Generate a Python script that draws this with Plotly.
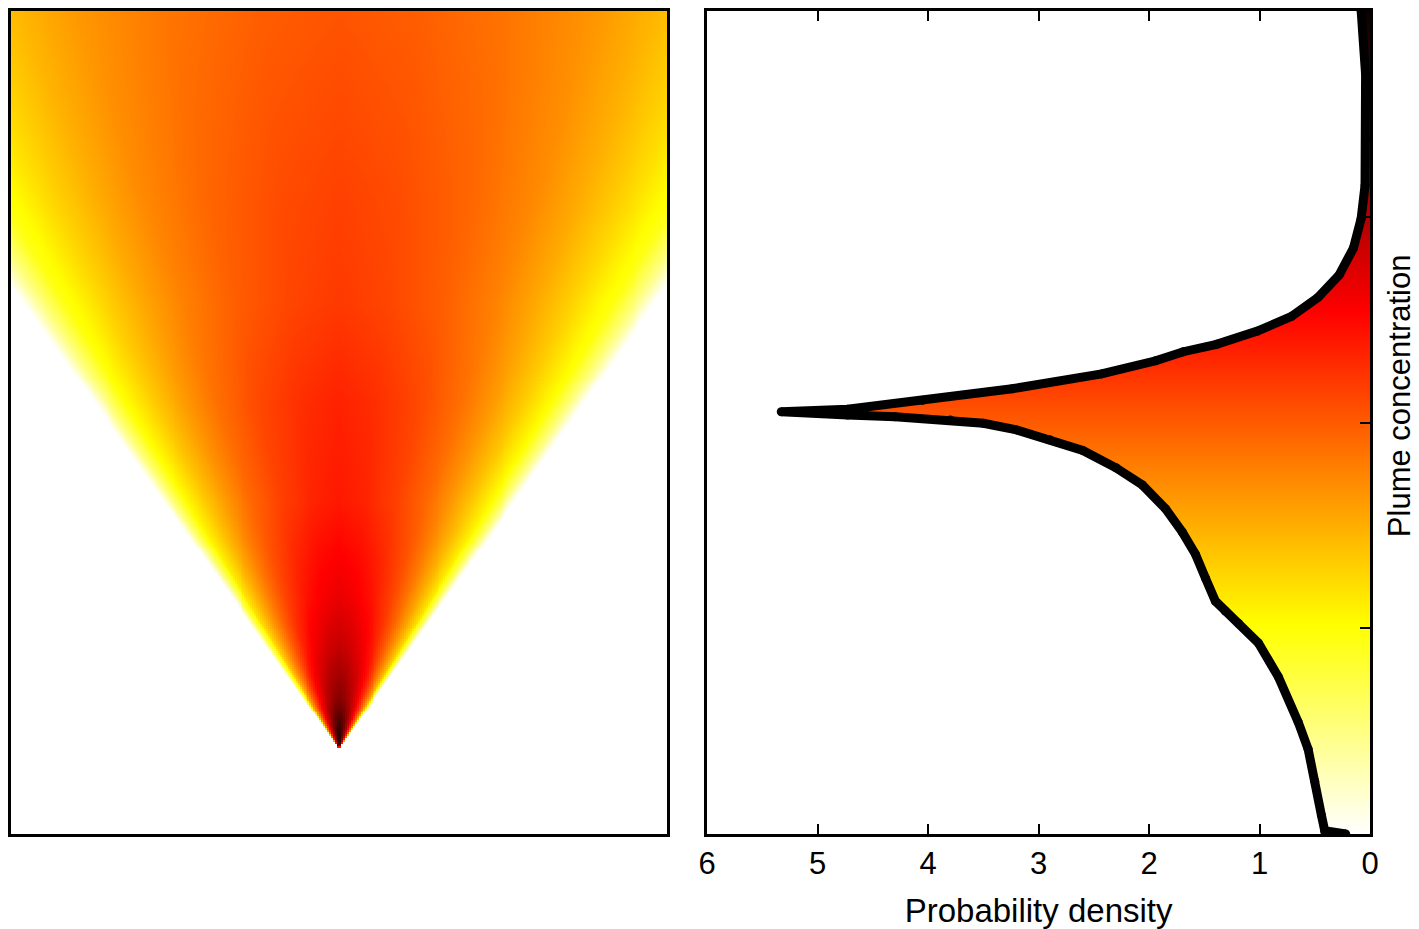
import numpy as np
import plotly.graph_objects as go

# left panel: plume seen from above, source at (0, 0); 1 unit = 100 px of the picture
centre_height = [0.0, 0.17, 0.5, 1.0, 1.5, 2.5, 3.5, 4.5, 5.5, 6.5, 7.5]
centre_conc = [1.0, 0.95, 0.82, 0.73, 0.67, 0.60, 0.585, 0.55, 0.54, 0.525, 0.51]
edge_ratio = 0.71  # half-width / height where the plume fades to white
profile_r = [0.0, 0.15, 0.33, 0.5, 0.62, 0.75, 0.87, 0.95, 1.0]
profile_rel = [1.0, 0.97, 0.9, 0.8, 0.7, 0.57, 0.43, 0.2, 0.0]

# right panel: probability density of the plume concentration
density = [0.22, 0.41, 0.44, 0.50, 0.56, 0.65, 0.83, 1.01, 1.19, 1.31, 1.40, 1.49,
           1.58, 1.70, 1.85, 2.06, 2.30, 2.60, 2.90, 3.20, 3.50, 3.80, 4.30, 4.73,
           5.33, 4.73, 4.05, 3.24, 2.43, 1.94, 1.69, 1.39, 1.02, 0.71, 0.47, 0.28,
           0.15, 0.08, 0.045, 0.036, 0.04, 0.08]
concentration = [0.0, 0.004, 0.023, 0.064, 0.103, 0.136, 0.191, 0.232, 0.256, 0.271,
                 0.283, 0.311, 0.340, 0.367, 0.395, 0.424, 0.445, 0.466, 0.479, 0.491,
                 0.499, 0.503, 0.507, 0.509, 0.513, 0.516, 0.527, 0.541, 0.559, 0.575,
                 0.586, 0.595, 0.611, 0.629, 0.652, 0.679, 0.712, 0.748, 0.788, 0.844,
                 0.923, 1.0]
density_ticks = [0, 1, 2, 3, 4, 5, 6]
conc_ticks = [0.25, 0.5, 0.75]

# reversed "hot" colour map
hot_r = [[0, "#ffffff"], [0.254, "#ffff00"], [0.635, "#ff0000"], [1, "#0b0000"]]

# build the concentration table for the heatmap
xs = np.round(np.arange(-3.33, 3.331, 0.02), 3)
ys = np.round(np.arange(-0.86, 7.471, 0.02), 3)
X, Y = np.meshgrid(xs, ys)
H = np.clip(Y, 1e-6, None)
ratio = np.abs(X) / (edge_ratio * H)
z = np.interp(Y, centre_height, centre_conc) * np.interp(ratio, profile_r, profile_rel, right=0)
z[Y <= 0] = 0
z = np.round(z, 3)

font = "Liberation Sans, Arial, sans-serif"

fig = go.Figure()
fig.add_trace(go.Heatmap(
    x=xs, y=ys, z=z, colorscale=hot_r, zmin=0, zmax=1,
    showscale=False, hoverinfo="skip", xaxis="x", yaxis="y"
))
fig.add_trace(go.Scatter(
    x=density, y=concentration, mode="lines+markers",
    line=dict(color="black", width=9),
    marker=dict(color="black", size=9),
    fill="tozerox",
    fillgradient=dict(type="vertical", colorscale=hot_r, start=0, stop=1),
    xaxis="x2", yaxis="y2", showlegend=False
))

# the page body adds an 8 px offset, so the figure is 8 px smaller each way
W, Hh = 1411, 921
ml, mr, mt, mb = 3, 48.5, 3, 94.5
pw = W - ml - mr

fig.update_layout(
    width=W, height=Hh,
    margin=dict(l=ml, r=mr, t=mt, b=mb, autoexpand=False),
    paper_bgcolor="white", plot_bgcolor="white",
    font=dict(family=font, size=31, color="black"),
    showlegend=False,
    xaxis=dict(domain=[0, 656.5 / pw], range=[-3.33, 3.33], showticklabels=False,
               ticks="", showgrid=False, zeroline=False, showline=True, mirror=True,
               linecolor="black", linewidth=3, automargin=False),
    yaxis=dict(domain=[0, 1], range=[-0.86, 7.47], showticklabels=False, ticks="",
               showgrid=False, zeroline=False, showline=True, mirror=True,
               linecolor="black", linewidth=3, automargin=False),
    xaxis2=dict(domain=[696.5 / pw, 1], range=[6, 0], tickvals=density_ticks,
                ticks="inside", ticklen=10, tickwidth=1.5, tickcolor="black",
                showgrid=False, zeroline=False, showline=True, mirror="ticks",
                linecolor="black", linewidth=3, anchor="y2", automargin=False,
                title=dict(text="Probability density", standoff=19, font=dict(size=33)),
                tickfont=dict(size=31)),
    yaxis2=dict(domain=[0, 1], range=[0, 1], tickvals=conc_ticks, side="right",
                ticks="inside", ticklen=10, tickwidth=1.5, tickcolor="black",
                showticklabels=False, showgrid=False, zeroline=False, showline=True,
                mirror=True, linecolor="black", linewidth=3, anchor="x2",
                automargin=False),
)

# concentration label sits a little above the middle of the axis
fig.add_annotation(
    text="Plume concentration", textangle=-90, showarrow=False,
    xref="paper", yref="paper", x=1, y=0.532, xanchor="center", yanchor="middle",
    xshift=29, font=dict(size=31)
)

fig.write_html("out.html")
